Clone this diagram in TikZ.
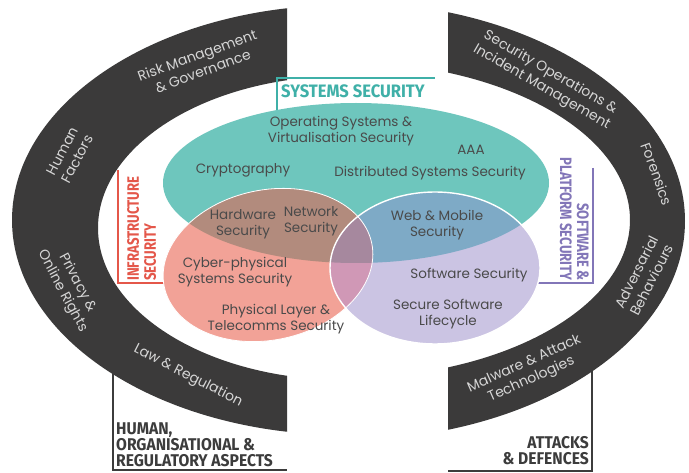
\documentclass[tikz,border=0pt]{standalone}
\usepackage{fontspec}
\setmainfont{Poppins}
\newfontfamily\hfc{Fira Sans}[FakeStretch=0.8]
\newfontfamily\hfw{Fira Sans}[FakeStretch=0.92]
\definecolor{ringc}{HTML}{3B3A3A}
\definecolor{ringtxt}{HTML}{D6D6D6}
\definecolor{tealf}{HTML}{6EC6BD}
\definecolor{tealh}{HTML}{3FB0A8}
\definecolor{salm}{HTML}{F2A297}
\definecolor{lav}{HTML}{CBC4E3}
\definecolor{brownl}{HTML}{B28B7D}
\definecolor{bluel}{HTML}{7EAAC6}
\definecolor{mauvel}{HTML}{D098B6}
\definecolor{centl}{HTML}{A6889E}
\definecolor{redh}{HTML}{E4574A}
\definecolor{purh}{HTML}{8276B8}
\definecolor{txt}{HTML}{4A4A4A}
\definecolor{boxt}{HTML}{3C3C3C}
\begin{document}
\begin{tikzpicture}[x=1pt,y=-1pt,
  body/.style={font=\fontsize{13.5}{15.5}\selectfont, text=txt, align=center, inner sep=0},
  ringlab/.style={font=\fontsize{14}{17}\selectfont, text=ringtxt, align=center, inner sep=0},
  hdrc/.style={font=\hfc\bfseries\fontsize{16.5}{16}\selectfont, inner sep=0},
  hdrw/.style={font=\hfw\bfseries\fontsize{17}{16}\selectfont, inner sep=0, text=boxt},
  brk/.style={line width=2.2pt},
  salmshape/.style={rotate around={12:(268,265)}}]
\useasboundingbox (0,0) rectangle (689,473);
\fill[white] (0,0) rectangle (689,473);
% bottom boxes
\draw[boxt, line width=1.8pt] (113,360) -- (113,470) -- (287,470);
\draw[boxt, line width=1.8pt] (448,471) -- (592,471) -- (592,360);
% ring
\begin{scope}
\clip (0,0) rectangle (287,473);
\fill[ringc, even odd rule] (345,220) ellipse [x radius=333, y radius=215] (345,228) ellipse [x radius=247, y radius=152];
\end{scope}
\begin{scope}
\clip (448,0) rectangle (689,473);
\fill[ringc, even odd rule] (345,221) ellipse [x radius=340, y radius=219] (345,220) ellipse [x radius=285, y radius=158];
\end{scope}
% brackets
\draw[tealh, brk] (277,112) -- (277,78) -- (435,78);
\draw[redh, brk] (118,170) -- (118,283) -- (185,283);
\draw[purh, brk] (593,168) -- (593,283) -- (535,283);
% venn
\fill[tealf] (356,183) ellipse [x radius=193, y radius=80];
\fill[salm, salmshape] (268,265) ellipse [x radius=106, y radius=75];
\fill[lav] (435,268) ellipse [x radius=105, y radius=76];
\begin{scope}
\clip (356,183) ellipse [x radius=193, y radius=80];
\fill[brownl, salmshape] (268,265) ellipse [x radius=106, y radius=75];
\fill[bluel] (435,268) ellipse [x radius=105, y radius=76];
\end{scope}
\begin{scope}
\clip[salmshape] (268,265) ellipse [x radius=106, y radius=75];
\fill[mauvel] (435,268) ellipse [x radius=105, y radius=76];
\end{scope}
\begin{scope}
\clip (356,183) ellipse [x radius=193, y radius=80];
\clip[salmshape] (268,265) ellipse [x radius=106, y radius=75];
\fill[centl] (435,268) ellipse [x radius=105, y radius=76];
\end{scope}
\draw[white, line width=0.8pt, salmshape] (268,265) ellipse [x radius=106, y radius=75];
\draw[white, line width=1.4pt] (435,268) ellipse [x radius=105, y radius=76];
% headers
\node[hdrw, text=tealh, font=\hfw\bfseries\fontsize{18}{16}\selectfont, anchor=west] (sys) at (281,91) {SYSTEMS SECURITY};
\node[hdrc, text=redh, rotate=90, anchor=north west, align=left] (inf) at (127,281) {INFRASTRUCTURE\\[1pt]SECURITY};
\node[hdrc, text=purh, rotate=-90, anchor=north east, align=right] (sw) at (589,281) {SOFTWARE \&\\[1pt]PLATFORM SECURITY};
\node[hdrw, anchor=north west, align=left] (hum) at (116,423) {HUMAN,\\ORGANISATIONAL \&\\REGULATORY ASPECTS};
\node[hdrw, anchor=north east, align=right] (att) at (589,436) {ATTACKS\\\& DEFENCES};
% venn texts
\node[body] (os) at (341,131) {Operating Systems \&\\Virtualisation Security};
\node[body] (aaa) at (471,150) {AAA};
\node[body] (cry) at (243,170) {Cryptography};
\node[body] (dss) at (430,173) {Distributed Systems Security};
\node[body] (hw) at (243,224) {Hardware\\Security};
\node[body] (nw) at (311,221) {Network\\Security};
\node[body] (wm) at (437,225) {Web \& Mobile\\Security};
\node[body] (cps) at (235,272) {Cyber-physical\\Systems Security};
\node[body] (ss) at (469,275) {Software Security};
\node[body] (pl) at (276,319) {Physical Layer \&\\Telecomms Security};
\node[body] (ssl) at (448,314) {Secure Software\\Lifecycle};
% ring texts
\node[ringlab, rotate=20] (rm) at (200,63) {Risk Management\\\& Governance};
\node[ringlab, rotate=62] (hf) at (70,155) {Human\\Factors};
\node[ringlab, rotate=-62] (pr) at (70,287) {Privacy \&\\Online Rights};
\node[ringlab, rotate=-27] (lr) at (188,376) {Law \& Regulation};
\node[ringlab, rotate=-30] (so) at (546,80) {Security Operations \&\\Incident Management};
\node[ringlab, rotate=-70] (fo) at (657,174) {Forensics};
\node[ringlab, rotate=63] (ab) at (644,276) {Adversarial\\Behaviours};
\node[ringlab, rotate=24] (ma) at (528,372) {Malware \& Attack\\Technologies};
\end{tikzpicture}
\end{document}
